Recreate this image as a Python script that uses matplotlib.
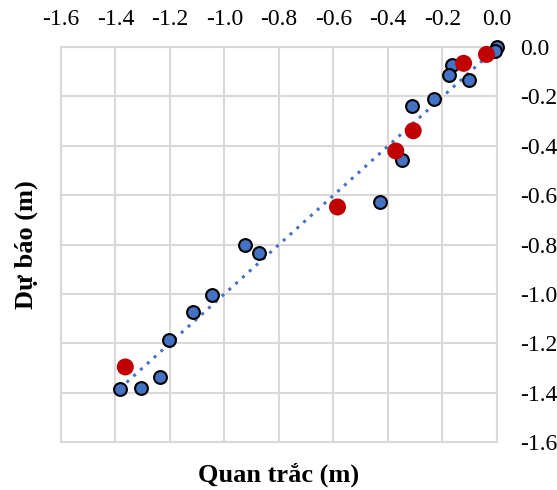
import numpy as np
import matplotlib
matplotlib.use("Agg")
import matplotlib.pyplot as plt

plt.rcParams['font.family'] = ['Liberation Serif', 'DejaVu Serif']

# quan trac (x) / du bao (y), blue series
obs_blue = [0.0, -0.005, -0.163, -0.177, -0.103, -0.232, -0.312, -0.35, -0.429,
            -0.926, -0.872, -1.045, -1.117, -1.204, -1.236, -1.384, -1.308]
pred_blue = [0.0, -0.015, -0.074, -0.112, -0.135, -0.209, -0.239, -0.457, -0.626,
             -0.802, -0.835, -1.004, -1.074, -1.187, -1.336, -1.386, -1.383]

# red series
obs_red = [-0.038, -0.122, -0.307, -0.371, -0.585, -1.364]
pred_red = [-0.030, -0.066, -0.339, -0.421, -0.648, -1.296]

ticks = [-1.6, -1.4, -1.2, -1.0, -0.8, -0.6, -0.4, -0.2, 0.0]

fig = plt.figure(figsize=(5.57, 4.90), dpi=100)
ax = fig.add_axes([0.1095, 0.098, 0.7825, 0.806])

# trendline over all points
all_x = np.array(obs_blue + obs_red)
all_y = np.array(pred_blue + pred_red)
k, b = np.polyfit(all_x, all_y, 1)
xs = np.array([all_x.min(), all_x.max()])
ax.plot(xs, k * xs + b, linestyle=(0, (1, 2)), color='#4472C4', lw=2.2, zorder=2)

ax.scatter(obs_blue, pred_blue, s=85, color='#4472C4', edgecolor='black', linewidth=1.5,
           zorder=3, clip_on=False)
ax.scatter(obs_red, pred_red, s=150, color='#C00000', edgecolor='none', zorder=4, clip_on=False)

ax.set_xlim(-1.6, 0.0)
ax.set_ylim(-1.6, 0.0)
ax.set_xticks(ticks)
ax.set_yticks(ticks)
ax.set_xticklabels([f"{t:.1f}" for t in ticks])
ax.set_yticklabels([f"{t:.1f}" for t in ticks])
ax.xaxis.tick_top()
ax.yaxis.tick_right()
ax.tick_params(axis='x', length=0, labelsize=17, pad=12)
ax.tick_params(axis='y', length=0, labelsize=17, pad=17)
ax.grid(True, color='#D9D9D9', lw=1.5)
ax.set_axisbelow(True)
for s in ax.spines.values():
    s.set_color('#D9D9D9')
    s.set_linewidth(1.5)

fig.text(0.5, 0.032, 'Quan trắc (m)', ha='center', va='center', fontsize=19, fontweight='bold')
fig.text(0.047, 0.5, 'Dự báo (m)', ha='center', va='center', rotation=90, fontsize=19, fontweight='bold')

fig.savefig('out.png', dpi=100)
